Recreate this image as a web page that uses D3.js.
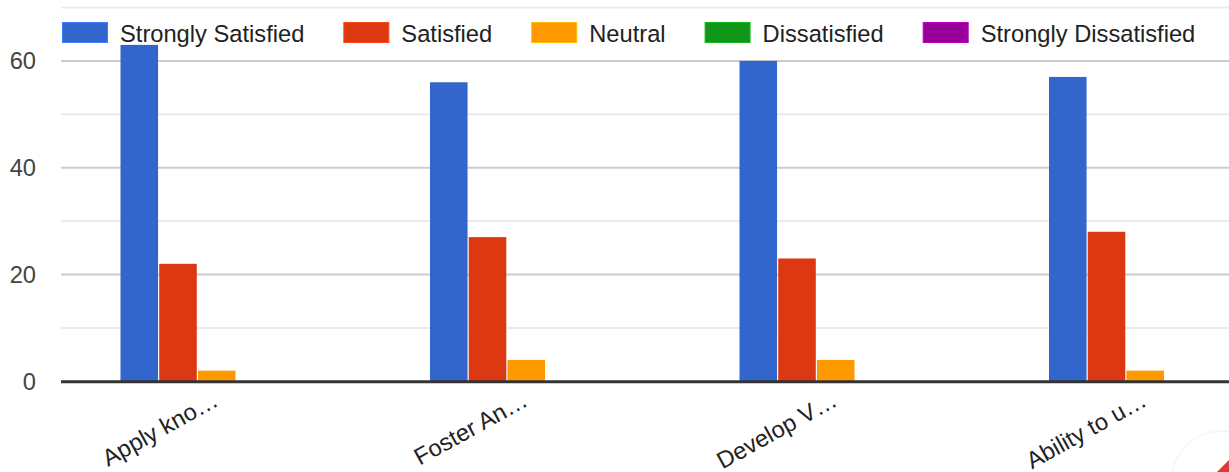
<!DOCTYPE html>
<html>
<head>
<meta charset="utf-8">
<script src="https://cdn.jsdelivr.net/npm/d3@7"></script>
<style>
  html, body { margin: 0; padding: 0; background: #fff; overflow: hidden; }
  svg { display: block; font-family: Arial, "Liberation Sans", sans-serif; }
</style>
</head>
<body>
<svg id="chart" width="1229" height="472"></svg>
<script>
// ---- data ----
const categories = ["Apply kno…", "Foster An…", "Develop V…", "Ability to u…"];
const seriesNames = ["Strongly Satisfied", "Satisfied", "Neutral", "Dissatisfied", "Strongly Dissatisfied"];
const stronglySatisfied = [63, 56, 60, 57];
const satisfied = [22, 27, 23, 28];
const neutral = [2, 4, 4, 2];
const dissatisfied = [0, 0, 0, 0];
const stronglyDissatisfied = [0, 0, 0, 0];
const majorTicks = [0, 20, 40, 60];
const minorTicks = [10, 30, 50, 70];
const colors = ["#3366cc", "#dc3912", "#ff9900", "#109618", "#990099"];

const seriesValues = [stronglySatisfied, satisfied, neutral, dissatisfied, stronglyDissatisfied];

const svg = d3.select("#chart");
const fontSize = 23.7;

// ---- scales ----
const x0 = d3.scaleBand().domain(categories).range([62, 1300]).paddingInner(0.378).paddingOuter(0.189);
const x1 = d3.scaleBand().domain(seriesNames).range([0, x0.bandwidth()]).paddingInner(0.03);
const y = d3.scaleLinear().domain([0, 70]).range([381.3, 7.5]);

// ---- gridlines ----
const grid = svg.append("g");
grid.selectAll("line.minor").data(minorTicks).join("line")
  .attr("class", "minor")
  .attr("x1", 61).attr("x2", 1229)
  .attr("y1", d => y(d)).attr("y2", d => y(d))
  .attr("stroke", "#ebebeb").attr("stroke-width", 2);
grid.selectAll("line.major").data(majorTicks.filter(d => d !== 0)).join("line")
  .attr("class", "major")
  .attr("x1", 61).attr("x2", 1229)
  .attr("y1", d => y(d)).attr("y2", d => y(d))
  .attr("stroke", "#cccccc").attr("stroke-width", 2);

// ---- y axis labels ----
svg.append("g").selectAll("text").data(majorTicks).join("text")
  .attr("x", 36).attr("y", d => y(d))
  .attr("dy", "0.36em")
  .attr("text-anchor", "end")
  .attr("fill", "#444444")
  .attr("font-size", fontSize)
  .text(d => d);

// ---- bars ----
const rows = categories.map((c, i) => ({ cat: c, vals: seriesNames.map((s, j) => ({ s, v: seriesValues[j][i], c: colors[j] })) }));
const groups = svg.append("g").selectAll("g").data(rows).join("g")
  .attr("transform", d => `translate(${x0(d.cat)},0)`);
groups.selectAll("rect").data(d => d.vals.filter(e => e.v > 0)).join("rect")
  .attr("x", d => x1(d.s))
  .attr("width", x1.bandwidth())
  .attr("y", d => y(d.v))
  .attr("height", d => y(0) - y(d.v))
  .attr("fill", d => d.c);

// ---- baseline ----
svg.append("line")
  .attr("x1", 61).attr("x2", 1229)
  .attr("y1", y(0) + 0.5).attr("y2", y(0) + 0.5)
  .attr("stroke", "#333333").attr("stroke-width", 3);

// ---- x labels ----
svg.append("g").selectAll("text").data(categories).join("text")
  .attr("transform", d => `translate(${x0(d) + x0.bandwidth() / 2 + 3},${405}) rotate(-29)`)
  .attr("text-anchor", "end")
  .attr("fill", "#222222")
  .attr("font-size", fontSize)
  .text(d => d);

// ---- legend ----
const legend = svg.append("g");
let lx = 62;
seriesNames.forEach((name, i) => {
  legend.append("rect")
    .attr("x", lx + 0.5).attr("y", 22.5)
    .attr("width", 45).attr("height", 20)
    .attr("fill", colors[i])
    .attr("stroke", d3.color(colors[i]).brighter(0.6))
    .attr("stroke-width", 1);
  const t = legend.append("text")
    .attr("x", lx + 58).attr("y", 33)
    .attr("dy", "0.36em")
    .attr("fill", "#222222")
    .attr("font-size", fontSize)
    .text(name);
  const w = t.node().getComputedTextLength();
  lx = lx + 58 + w + 39;
});

// ---- corner button decoration ----
const defs = svg.append("defs");
const f = defs.append("filter").attr("id", "shadow").attr("x", "-20%").attr("y", "-20%").attr("width", "140%").attr("height", "140%");
f.append("feGaussianBlur").attr("in", "SourceAlpha").attr("stdDeviation", 1.5);
f.append("feComponentTransfer").append("feFuncA").attr("type", "linear").attr("slope", 0.15);
const m = f.append("feMerge");
m.append("feMergeNode");
m.append("feMergeNode").attr("in", "SourceGraphic");
svg.append("circle")
  .attr("cx", 1222).attr("cy", 482).attr("r", 50)
  .attr("fill", "#ffffff")
  .attr("filter", "url(#shadow)");
svg.append("polygon")
  .attr("points", "1229,460 1229,472 1217,472")
  .attr("fill", "#d93a3a");
</script>
</body>
</html>
